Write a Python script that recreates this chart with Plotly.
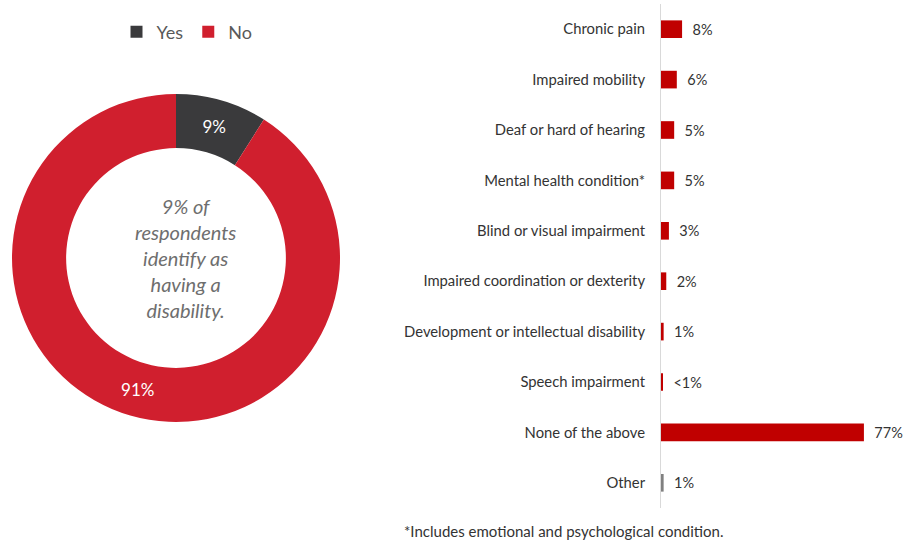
import plotly.graph_objects as go

# Donut: share of respondents identifying as having a disability
donut_labels = ["Yes", "No"]
donut_values = [9, 91]
donut_colors = ["#3a3a3c", "#d01f2e"]

# Bars: type of disability reported
categories = [
    "Chronic pain",
    "Impaired mobility",
    "Deaf or hard of hearing",
    "Mental health condition*",
    "Blind or visual impairment",
    "Impaired coordination or dexterity",
    "Development or intellectual disability",
    "Speech impairment",
    "None of the above",
    "Other",
]
bar_values = [8, 6, 5, 5, 3, 2, 1, 0.4, 77, 1]
bar_labels = ["8%", "6%", "5%", "5%", "3%", "2%", "1%", "<1%", "77%", "1%"]
bar_colors = ["#c00000"] * 9 + ["#808080"]

W, H = 914, 544
FONT = "Lato, 'Open Sans', sans-serif"

fig = go.Figure()

fig.add_trace(go.Pie(
    labels=donut_labels,
    values=donut_values,
    hole=0.67,
    sort=False,
    direction="clockwise",
    rotation=0,
    marker=dict(colors=donut_colors, line=dict(width=0)),
    texttemplate="%{percent:.0%}",
    textposition="inside",
    insidetextorientation="horizontal",
    textfont=dict(color="white", size=17, family=FONT),
    domain=dict(x=[12 / W, 340 / W], y=[1 - 422 / H, 1 - 94 / H]),
    showlegend=True,
))

fig.add_trace(go.Bar(
    x=bar_values,
    y=categories,
    orientation="h",
    marker=dict(color=bar_colors, line=dict(width=0)),
    text=bar_labels,
    texttemplate="  %{text}",
    textposition="outside",
    cliponaxis=False,
    textfont=dict(color="#333333", size=14.5, family=FONT),
    width=0.35,
    showlegend=False,
    xaxis="x",
    yaxis="y",
))

fig.update_layout(
    width=W,
    height=H,
    margin=dict(l=0, r=0, t=0, b=0),
    paper_bgcolor="white",
    plot_bgcolor="white",
    font=dict(family=FONT, color="#333333", size=14.5),
    xaxis=dict(
        domain=[661 / W, 885 / W],
        range=[0, 85],
        visible=False,
        fixedrange=True,
    ),
    yaxis=dict(
        domain=[1 - 508 / H, 1 - 4 / H],
        autorange="reversed",
        showline=True,
        linecolor="#d9d9d9",
        linewidth=1,
        ticks="",
        ticklabelstandoff=12,
        showgrid=False,
        tickfont=dict(size=14.8, color="#333333", family=FONT),
    ),
    legend=dict(
        orientation="h",
        x=187 / W,
        xanchor="center",
        y=1 - 32 / H,
        yanchor="middle",
        font=dict(size=18, color="#595959", family=FONT),
        itemwidth=30,
        traceorder="normal",
    ),
    annotations=[
        dict(
            x=185 / W, y=1 - 258 / H, xref="paper", yref="paper",
            xanchor="center", yanchor="middle",
            text="<i>9% of<br>respondents<br>identify as<br>having a<br>disability.</i>",
            showarrow=False,
            align="center",
            font=dict(size=20, color="#6e6e6e", family=FONT),
        ),
        dict(
            x=402 / W, y=1 - 531 / H, xref="paper", yref="paper",
            xanchor="left", yanchor="middle",
            text="*Includes emotional and psychological condition.",
            showarrow=False,
            font=dict(size=15, color="#333333", family=FONT),
        ),
    ],
)

fig.write_html("out.html")
